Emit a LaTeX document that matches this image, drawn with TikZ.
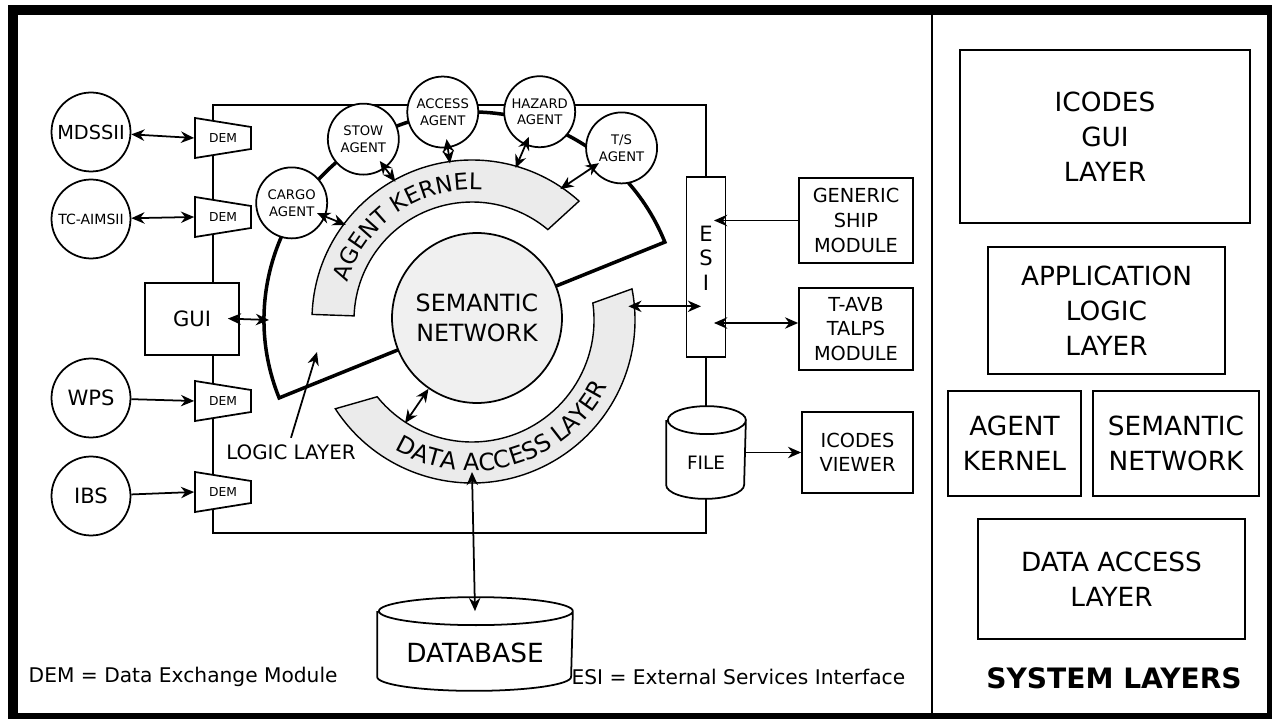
\documentclass[tikz,border=0pt]{standalone}
\usepackage{fontspec}
\setmainfont{DejaVu Sans}
\usetikzlibrary{arrows.meta,decorations.text}

\begin{document}
\begin{tikzpicture}[x=0.02cm,y=0.02cm,>={Stealth[length=7.5pt,width=6.5pt]},line width=1pt]
        \tikzstyle{agent}=[circle, draw, fill=white, minimum size=1.42cm, inner sep=0pt, align=center, font=\fontsize{7.5}{9.5}\selectfont]
        \tikzstyle{extsys}=[circle, draw, fill=white, minimum size=1.58cm, inner sep=0pt]
        \tikzstyle{module}=[rectangle, draw, fill=white, align=center, inner sep=0pt, font=\fontsize{11}{14}\selectfont]
        \tikzstyle{layerbox}=[rectangle, draw, line width=1.3pt, align=center, inner sep=0pt, font=\fontsize{15}{20}\selectfont]
        \tikzstyle{band}=[draw, fill=gray!16, line width=0.8pt]
        \tikzstyle{demtext}=[rectangle, minimum width=1.12cm, minimum height=0.4cm, inner sep=0pt, font=\fontsize{7}{7}\selectfont]
        \tikzstyle{thickline}=[line width=2pt]

        \useasboundingbox (0,0) rectangle (1272,-719);
        \draw[line width=0.2cm] (13,-10.5) rectangle (1272,-718);
        \draw[line width=1.2pt] (932,-15) -- (932,-713);
        \coordinate (C) at (472,-320);

        % ESI, file store and the frame round the kernel
        \node[module, minimum width=0.78cm, minimum height=3.6cm] (esi) at (706,-267) {};
        \node[align=center, font=\fontsize{12}{14}\selectfont] (esitext) at ([yshift=0.18cm]esi.center) {E\\S\\I};
        \node[minimum width=1.56cm, minimum height=1.82cm, inner sep=0pt] (file) at (706,-452.5) {};
        \draw ([yshift=-0.28cm]file.north west) -- ([yshift=0.28cm]file.south west)
              arc[start angle=180, end angle=360, x radius=0.78cm, y radius=0.28cm]
              -- ([yshift=-0.28cm]file.north east)
              arc[start angle=0, end angle=360, x radius=0.78cm, y radius=0.28cm];
        \node[font=\fontsize{10.5}{12}\selectfont] (filetext) at ([yshift=-0.2cm]file.center) {FILE};
        \draw (esi.north) |- (213,-105) -- (213,-533) -| (file.south);
        \draw (esi.south) -- (file.north);

        % left side
        \node[module, minimum width=1.88cm, minimum height=1.44cm, font=\fontsize{12}{14}\selectfont] (gui) at (192,-319) {GUI};
        \node[extsys, font=\fontsize{11}{13}\selectfont] (mds)    at (91,-132) {MDSSII};
        \node[extsys, font=\fontsize{8}{10}\selectfont]  (tcaims) at (91,-219) {TC-AIMSII};
        \node[extsys, font=\fontsize{12}{14}\selectfont] (wps)    at (91,-398) {WPS};
        \node[extsys, font=\fontsize{12}{14}\selectfont] (ibs)    at (91,-496) {IBS};
        \foreach \n/\y in {1/138,2/217,3/401,4/492}
        {
          \draw[fill=white] (195,-\y+20) -- (251,-\y+11) -- (251,-\y-11) -- (195,-\y-20) -- cycle;
          \node[demtext] (dem\n) at (223,-\y) {DEM};
        }

        % gray bands
        \draw[band] ([shift={(178:160)}]C) arc[start angle=178, end angle=48, radius=160]
                    -- ([shift={(50:118)}]C) arc[start angle=50, end angle=178, radius=118] -- cycle;
        \draw[band] ([shift={(213:163)}]C) arc[start angle=213, end angle=371, radius=163]
                    -- ([shift={(368:122)}]C) arc[start angle=368, end angle=219, radius=122] -- cycle;
        \path[decorate, decoration={text along path, text align=center, text={|\fontsize{13}{13}\selectfont|AGENT KERNEL}}]
              ([shift={(175:130)}]C) arc[start angle=175, end angle=74, radius=130];
        \path[decorate, decoration={text along path, text align=center, text={|\fontsize{13.5}{13.5}\selectfont|DATA ACCESS LAYER}}]
              ([shift={(215:151)}]C) arc[start angle=215, end angle=358, radius=151];

        % logic layer
        \draw[thickline] ([shift={(202:70)}]C) -- ([shift={(202:208)}]C)
              arc[start angle=202, end angle=22, radius=208] -- ([shift={(22:70)}]C);
        \node[circle, draw, fill=gray!12, minimum size=3.4cm, inner sep=0pt, align=center, font=\fontsize{13.5}{17}\selectfont] (sem) at (477,-318) {SEMANTIC\\NETWORK};

        % agents
        \node[agent] (cargo)  at ([shift={(147:215)}]C) {CARGO\\AGENT};
        \node[agent] (stow)   at ([shift={(121:211)}]C) {STOW\\AGENT};
        \node[agent] (access) at ([shift={(98:210)}]C)  {ACCESS\\AGENT};
        \node[agent] (hazard) at ([shift={(72:219)}]C)  {HAZARD\\AGENT};
        \node[agent] (ts)     at ([shift={(49:228)}]C)  {T/S\\AGENT};
        \foreach \n/\a in {cargo/143,stow/119,access/98,hazard/74,ts/56}
        {
          \coordinate (k\n) at ([shift={(\a:158)}]C);
          \draw[<->, shorten <=-0.18cm] (\n) -- (k\n);
        }

        \coordinate (lgui) at ([shift={(180:203)}]C);
        \draw[<->, shorten <=-0.24cm] (gui.east) -- (lgui);
        \node[font=\fontsize{11.3}{13}\selectfont] (logic) at (291,-452) {LOGIC LAYER};
        \coordinate (lltip) at (317,-352);
        \draw[->] (logic.north) -- (lltip);
        \coordinate (dsem) at ([shift={(237:123)}]C);
        \draw[<->] (dsem) -- (sem);
        \coordinate (desi) at ([shift={(5:157)}]C);
        \draw[<->, shorten >=0.1cm] (desi) -- (desi -| esi.center);

        \draw[<->] (mds) -- (dem1.west);
        \draw[<->] (tcaims) -- (dem2.west);
        \draw[->] (wps) -- (dem3.west);
        \draw[->] (ibs) -- (dem4.west);

        % external services
        \node[module, minimum width=2.28cm, minimum height=1.7cm]  (gsm)    at (856,-220.5) {GENERIC\\SHIP\\MODULE};
        \node[module, minimum width=2.28cm, minimum height=1.64cm] (tavb)   at (856,-329)   {T-AVB\\TALPS\\MODULE};
        \node[module, minimum width=2.22cm, minimum height=1.62cm] (viewer) at (857.5,-452.5) {ICODES\\VIEWER};
        \draw[->, shorten >=0.16cm] (gsm.west) -- (gsm.west -| esi.center);
        \draw[<->, shorten >=0.16cm] ([yshift=0.12cm]tavb.west) -- ([yshift=0.12cm]tavb.west -| esi.center);
        \draw[->] (file.east) -- (viewer.west);

        % database
        \node[minimum width=3.88cm, minimum height=1.84cm, inner sep=0pt] (db) at (475,-644) {};
        \draw ([yshift=-0.28cm]db.north west) -- ([yshift=0.28cm]db.south west)
              arc[start angle=180, end angle=360, x radius=1.94cm, y radius=0.28cm]
              -- ([yshift=-0.28cm]db.north east)
              arc[start angle=0, end angle=360, x radius=1.94cm, y radius=0.28cm];
        \node[font=\fontsize{15}{15}\selectfont] (dbtext) at ([yshift=-0.18cm]db.center) {DATABASE};
        \coordinate (dbtop) at ([yshift=-0.28cm]db.north);
        \coordinate (dbot) at ([shift={(270:152)}]C);
        \draw[<->] (dbot) -- (dbtop);

        \node[anchor=west, font=\fontsize{11.5}{13}\selectfont] (demkey) at (22,-677) {DEM = Data Exchange Module};
        \node[anchor=east, font=\fontsize{11.5}{13}\selectfont] (esikey) at (912,-677) {ESI = External Services Interface};

        % system layers
        \node[layerbox, minimum width=5.8cm, minimum height=3.46cm]  (guilayer) at (1105,-136.5)   {ICODES\\GUI\\LAYER};
        \node[layerbox, minimum width=4.74cm, minimum height=2.54cm] (applayer) at (1106.5,-310.5) {APPLICATION\\LOGIC\\LAYER};
        \node[layerbox, minimum width=2.66cm, minimum height=2.1cm]  (aklayer)  at (1014.5,-443.5) {AGENT\\KERNEL};
        \node[layerbox, minimum width=3.32cm, minimum height=2.1cm]  (snlayer)  at (1176,-443.5)   {SEMANTIC\\NETWORK};
        \node[layerbox, minimum width=5.34cm, minimum height=2.4cm]  (dallayer) at (1111.5,-579)   {DATA ACCESS\\LAYER};
        \node[font=\bfseries\fontsize{16}{16}\selectfont] (syslayers) at (1114,-678) {SYSTEM LAYERS};
\end{tikzpicture}
\end{document}
